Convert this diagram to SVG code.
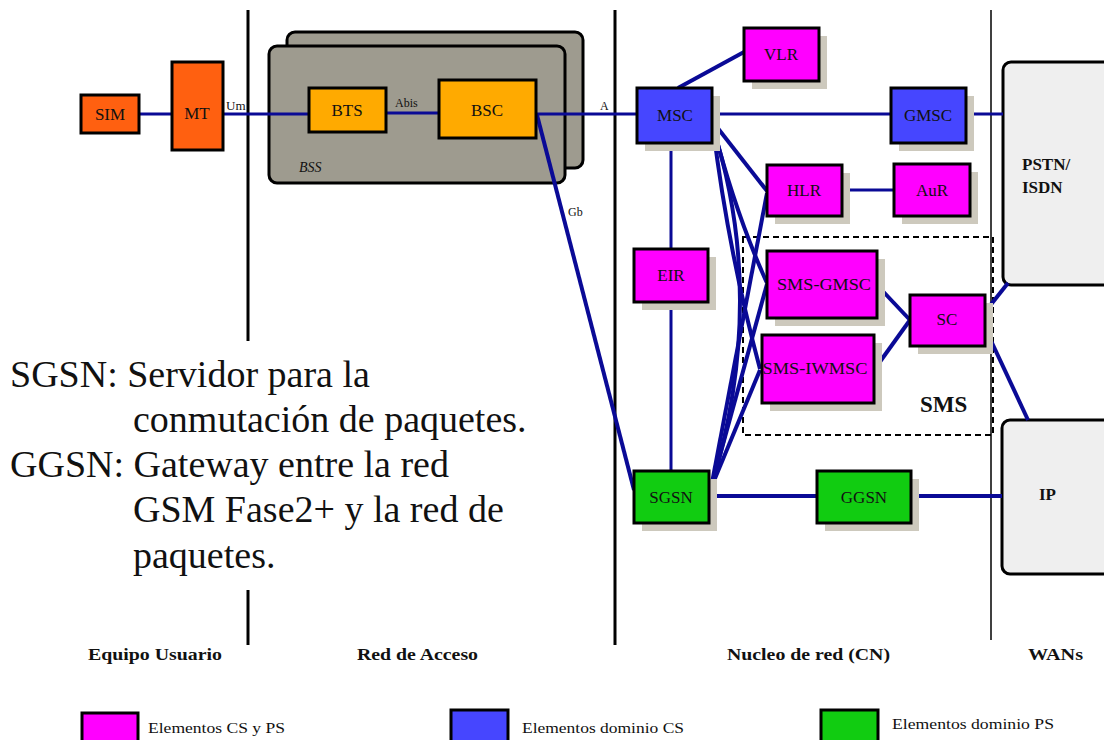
<svg xmlns="http://www.w3.org/2000/svg" width="1104" height="740" viewBox="0 0 1104 740" font-family="'Liberation Serif','Times New Roman',serif">
<defs>
<style>
text{font-family:"Liberation Serif","Times New Roman",serif;fill:#111}
.lbl{font-size:17px;text-anchor:middle}
.box{stroke:#000;stroke-width:3}
.sh{fill:#cdc9bd}
.mag{fill:#ff00ff}
.blu{fill:#4646ff}
.grn{fill:#11cc11}
.org{fill:#ff6010}
.ylw{fill:#ffaa00}
.bss{fill:#9e9b8f;stroke:#000;stroke-width:3}
.wan{fill:#efefef;stroke:#000;stroke-width:3}
.c{stroke:#0a0a96;fill:none;stroke-width:3}
.c4{stroke:#0a0a96;fill:none;stroke-width:4}
.div{stroke:#000;fill:none}
.small{font-size:12px}
.bold{font-weight:bold}
</style>
</defs>

<!-- divider lines -->
<g id="dividers">
<line class="div" x1="248" y1="10" x2="248" y2="341" stroke-width="3"/>
<line class="div" x1="248" y1="590" x2="248" y2="645" stroke-width="3"/>
<line class="div" x1="615" y1="10" x2="615" y2="645" stroke-width="3"/>
<line class="div" x1="991" y1="10" x2="991" y2="640" stroke-width="1.5"/>
</g>

<!-- BSS group -->
<g id="bss">
<rect class="bss" x="287" y="32" width="296" height="136" rx="8"/>
<rect class="bss" x="269" y="46" width="296" height="137" rx="8"/>
<text x="299" y="172" font-size="14" font-style="italic">BSS</text>
</g>

<!-- WAN boxes -->
<g id="pstn">
<rect class="wan" x="1003" y="62" width="130" height="223" rx="8"/>
<text x="1022" y="170" font-size="17" class="bold">PSTN/</text>
<text x="1022" y="193" font-size="17" class="bold">ISDN</text>
</g>
<g id="ip">
<rect class="wan" x="1002" y="420" width="130" height="154" rx="8"/>
<text x="1039" y="500" font-size="17" class="bold">IP</text>
</g>

<!-- SMS dashed area -->
<g id="sms-area">
<rect x="743" y="237" width="250" height="198" fill="none" stroke="#000" stroke-width="2" stroke-dasharray="6,4"/>
<text x="920" y="412" font-size="23" class="bold">SMS</text>
</g>

<!-- connectors -->
<g id="connectors">
<line class="c" x1="139" y1="114" x2="172" y2="114"/>
<line class="c" x1="223" y1="114" x2="309" y2="114"/>
<line class="c" x1="386" y1="113" x2="439" y2="113"/>
<line class="c" x1="536" y1="114" x2="637" y2="114"/>
<line class="c" x1="712" y1="114" x2="891" y2="114"/>
<line class="c" x1="966" y1="114" x2="1003" y2="114"/>
<line class="c4" x1="678" y1="88" x2="744" y2="52"/>
<line class="c" x1="842" y1="190" x2="894" y2="190" stroke-width="5"/>
<line class="c" x1="671" y1="143" x2="671" y2="471" stroke-width="2.5"/>
<line class="c4" x1="537" y1="115" x2="634" y2="490"/>
<line class="c4" x1="709" y1="496" x2="817" y2="496"/>
<line class="c4" x1="911" y1="496" x2="1002" y2="496"/>
<line class="c4" x1="877" y1="285" x2="910" y2="320"/>
<line class="c4" x1="874" y1="370" x2="910" y2="320"/>
<line class="c4" x1="985" y1="312" x2="1008" y2="283"/>
<line class="c4" x1="986" y1="330" x2="1028" y2="420"/>
<!-- fan from MSC -->
<line class="c4" x1="713" y1="122" x2="767" y2="191"/>
<path class="c4" d="M713,126 Q736,215 767,283"/>
<path class="c4" d="M713,127 Q728,250 760,369"/>
<path class="c4" d="M713,128 Q768,300 711,488"/>
<!-- fan from SGSN -->
<line class="c4" x1="711" y1="488" x2="767" y2="193"/>
<line class="c4" x1="711" y1="488" x2="767" y2="284"/>
<line class="c4" x1="711" y1="488" x2="760" y2="370"/>
<text x="226" y="110" font-size="13">Um</text>
<text x="395" y="107" class="small">Abis</text>
<text x="600" y="110" class="small">A</text>
<text x="568" y="216" class="small">Gb</text>
</g>

<!-- user equipment -->
<g id="sim"><rect class="box org" x="81" y="95" width="58" height="38"/><text class="lbl" x="110" y="120">SIM</text></g>
<g id="mt"><rect class="box org" x="172" y="62" width="51" height="88"/><text class="lbl" x="197" y="119">MT</text></g>
<g id="bts"><rect class="box ylw" x="309" y="88" width="77" height="44"/><text class="lbl" x="347" y="116">BTS</text></g>
<g id="bsc"><rect class="box ylw" x="439" y="80" width="97" height="58"/><text class="lbl" x="487" y="116">BSC</text></g>

<!-- core network -->
<g id="msc"><rect class="sh" x="645" y="96" width="75" height="55"/><rect class="box blu" x="637" y="88" width="75" height="55"/><text class="lbl" x="675" y="121">MSC</text></g>
<g id="vlr"><rect class="sh" x="752" y="36" width="75" height="53"/><rect class="box mag" x="744" y="28" width="75" height="53"/><text class="lbl" x="781" y="60">VLR</text></g>
<g id="gmsc"><rect class="sh" x="899" y="96" width="75" height="55"/><rect class="box blu" x="891" y="88" width="75" height="55"/><text class="lbl" x="928" y="121">GMSC</text></g>
<g id="hlr"><rect class="sh" x="775" y="173" width="75" height="51"/><rect class="box mag" x="767" y="165" width="75" height="51"/><text class="lbl" x="804" y="196">HLR</text></g>
<g id="aur"><rect class="sh" x="902" y="172" width="76" height="52"/><rect class="box mag" x="894" y="164" width="76" height="52"/><text class="lbl" x="932" y="196">AuR</text></g>
<g id="eir"><rect class="sh" x="642" y="257" width="74" height="53"/><rect class="box mag" x="634" y="249" width="74" height="53"/><text class="lbl" x="671" y="281">EIR</text></g>
<g id="sms-gmsc"><rect class="sh" x="775" y="259" width="110" height="67"/><rect class="box mag" x="767" y="251" width="110" height="67"/><text class="lbl" x="824" y="290" textLength="94" lengthAdjust="spacingAndGlyphs">SMS-GMSC</text></g>
<g id="sms-iwmsc"><rect class="sh" x="770" y="343" width="112" height="68"/><rect class="box mag" x="762" y="335" width="112" height="68"/><text class="lbl" x="815" y="374" textLength="105" lengthAdjust="spacingAndGlyphs">SMS-IWMSC</text></g>
<g id="sc"><rect class="sh" x="918" y="303" width="75" height="51"/><rect class="box mag" x="910" y="295" width="75" height="51"/><text class="lbl" x="947" y="325">SC</text></g>
<g id="sgsn"><rect class="sh" x="642" y="479" width="75" height="52"/><rect class="box grn" x="634" y="471" width="75" height="52"/><text class="lbl" x="671" y="503">SGSN</text></g>
<g id="ggsn"><rect class="sh" x="825" y="479" width="94" height="52"/><rect class="box grn" x="817" y="471" width="94" height="52"/><text class="lbl" x="864" y="503">GGSN</text></g>

<!-- explanatory text -->
<g id="notes" font-size="38">
<text x="10" y="387" font-size="38">SGSN: Servidor para la</text>
<text x="133" y="432" font-size="38">conmutación de paquetes.</text>
<text x="10" y="477" font-size="38">GGSN: Gateway entre la red</text>
<text x="133" y="522" font-size="38">GSM Fase2+ y la red de</text>
<text x="133" y="568" font-size="38">paquetes.</text>
</g>

<!-- domain labels -->
<g id="domains" font-size="17">
<text x="88" y="660" class="bold" font-size="17" textLength="134" lengthAdjust="spacingAndGlyphs">Equipo Usuario</text>
<text x="357" y="660" class="bold" font-size="17" textLength="121" lengthAdjust="spacingAndGlyphs">Red de Acceso</text>
<text x="727" y="660" class="bold" font-size="17" textLength="163" lengthAdjust="spacingAndGlyphs">Nucleo de red (CN)</text>
<text x="1028" y="660" class="bold" font-size="17" textLength="55" lengthAdjust="spacingAndGlyphs">WANs</text>
</g>

<!-- legend -->
<g id="legend">
<rect class="box mag" x="82" y="713" width="56" height="32"/>
<text x="148" y="733" font-size="15" textLength="137" lengthAdjust="spacingAndGlyphs">Elementos CS y PS</text>
<rect class="box blu" x="451" y="710" width="57" height="35"/>
<text x="522" y="733" font-size="15" textLength="162" lengthAdjust="spacingAndGlyphs">Elementos dominio CS</text>
<rect class="box grn" x="821" y="710" width="57" height="35"/>
<text x="892" y="729" font-size="15" textLength="162" lengthAdjust="spacingAndGlyphs">Elementos dominio PS</text>
</g>
</svg>
